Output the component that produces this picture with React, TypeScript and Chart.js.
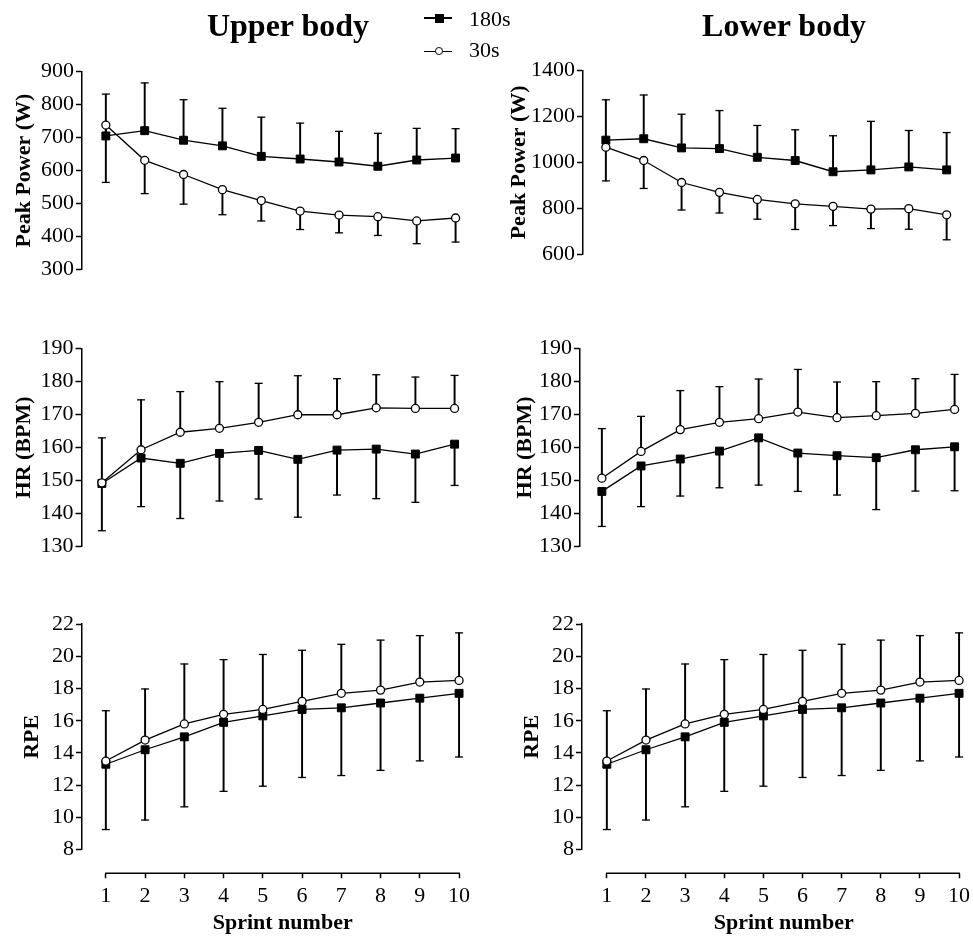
import React, { useEffect, useRef } from 'react';
import { Chart, registerables } from 'chart.js';

Chart.register(...registerables);

const FONT = "'Liberation Serif', 'Times New Roman', Times, serif";

// ---------- data ----------
const sprints = [1, 2, 3, 4, 5, 6, 7, 8, 9, 10];

// Upper body – Peak Power (W)
const upperPower180 = [705, 721, 692, 675, 643, 635, 626, 613, 632, 638];
const upperPower180SD = [127, 145, 123, 114, 119, 109, 93, 100, 96, 89];
const upperPower30 = [738, 631, 588, 542, 509, 477, 465, 460, 447, 456];
const upperPower30SD = [174, 101, 90, 76, 62, 56, 54, 57, 69, 73];

// Lower body – Peak Power (W)
const lowerPower180 = [1097, 1103, 1063, 1060, 1022, 1008, 959, 967, 980, 967];
const lowerPower180SD = [176, 191, 147, 166, 139, 134, 157, 212, 159, 163];
const lowerPower30 = [1066, 1008, 912, 869, 838, 819, 808, 796, 798, 771];
const lowerPower30SD = [147, 122, 120, 90, 86, 112, 84, 85, 90, 109];

// Upper body – HR (BPM)
const upperHR180 = [149.1, 156.8, 155.2, 158.2, 159.1, 156.4, 159.2, 159.5, 158.0, 161.0];
const upperHR180SD = [14.3, 14.7, 16.7, 14.4, 14.7, 17.5, 13.6, 15.0, 14.6, 12.5];
const upperHR30 = [149.3, 159.3, 164.6, 165.8, 167.6, 169.9, 169.9, 172.0, 171.8, 171.8];
const upperHR30SD = [13.6, 15.1, 12.3, 14.1, 11.8, 11.8, 10.9, 10.0, 9.5, 10.0];

// Lower body – HR (BPM)
const lowerHR180 = [146.7, 154.4, 156.5, 158.9, 162.9, 158.3, 157.5, 156.9, 159.3, 160.2];
const lowerHR180SD = [10.6, 12.3, 11.2, 11.1, 14.3, 11.6, 11.9, 15.7, 12.5, 13.3];
const lowerHR30 = [150.7, 158.8, 165.4, 167.6, 168.7, 170.7, 169.0, 169.6, 170.3, 171.5];
const lowerHR30SD = [15.0, 10.6, 11.8, 10.8, 12.0, 12.9, 10.8, 10.3, 10.5, 10.6];

// RPE (same in both panels)
const rpe180 = [13.3, 14.2, 15.0, 15.9, 16.3, 16.7, 16.8, 17.1, 17.4, 17.7];
const rpe180SD = [4.05, 4.36, 4.34, 4.28, 4.36, 4.22, 4.2, 4.18, 3.89, 3.95];
const rpe30 = [13.5, 14.8, 15.8, 16.4, 16.7, 17.2, 17.7, 17.9, 18.4, 18.5];
const rpe30SD = [3.12, 3.17, 3.72, 3.39, 3.41, 3.17, 3.04, 3.1, 2.88, 2.95];

// tick labels
const upperPowerTicks = [300, 400, 500, 600, 700, 800, 900];
const lowerPowerTicks = [600, 800, 1000, 1200, 1400];
const hrTicks = [130, 140, 150, 160, 170, 180, 190];
const rpeTicks = [8, 10, 12, 14, 16, 18, 20, 22];

const seriesLabels = ['180s', '30s'];
const columnTitles = ['Upper body', 'Lower body'];
const xTitle = 'Sprint number';

// ---------- layout ----------
type PanelDef = {
  id: string;
  yTitle: string;
  yTicks: number[];
  s180: number[];
  sd180: number[];
  dir180: number;
  s30: number[];
  sd30: number[];
  dir30: number;
  L: number; T: number; W: number; H: number;
  axisX: number; yTop: number; yBottom: number;
  x1: number; x10: number; titleX: number;
  showX: boolean;
};

const X_GAP = 23.6;

const panels: PanelDef[] = [
  { id: 'tl', yTitle: 'Peak Power (W)', yTicks: upperPowerTicks, s180: upperPower180, sd180: upperPower180SD, dir180: 1, s30: upperPower30, sd30: upperPower30SD, dir30: -1,
    L: 0, T: 30, W: 490, H: 290, axisX: 82, yTop: 71.7, yBottom: 294.7, x1: 106, x10: 458, titleX: 24, showX: false },
  { id: 'tr', yTitle: 'Peak Power (W)', yTicks: lowerPowerTicks, s180: lowerPower180, sd180: lowerPower180SD, dir180: 1, s30: lowerPower30, sd30: lowerPower30SD, dir30: -1,
    L: 495, T: 30, W: 497, H: 290, axisX: 583, yTop: 70.7, yBottom: 287, x1: 606, x10: 949, titleX: 519, showX: false },
  { id: 'ml', yTitle: 'HR (BPM)', yTicks: hrTicks, s180: upperHR180, sd180: upperHR180SD, dir180: -1, s30: upperHR30, sd30: upperHR30SD, dir30: 1,
    L: 0, T: 320, W: 490, H: 280, axisX: 81.5, yTop: 348.3, yBottom: 573.3, x1: 102, x10: 457, titleX: 24, showX: false },
  { id: 'mr', yTitle: 'HR (BPM)', yTicks: hrTicks, s180: lowerHR180, sd180: lowerHR180SD, dir180: -1, s30: lowerHR30, sd30: lowerHR30SD, dir30: 1,
    L: 495, T: 320, W: 497, H: 280, axisX: 580, yTop: 348.3, yBottom: 573.3, x1: 602, x10: 957, titleX: 525, showX: false },
  { id: 'bl', yTitle: 'RPE', yTicks: rpeTicks, s180: rpe180, sd180: rpe180SD, dir180: -1, s30: rpe30, sd30: rpe30SD, dir30: 1,
    L: 0, T: 600, W: 490, H: 337, axisX: 82, yTop: 624, yBottom: 849.7, x1: 106, x10: 461.5, titleX: 32, showX: true },
  { id: 'br', yTitle: 'RPE', yTicks: rpeTicks, s180: rpe180, sd180: rpe180SD, dir180: -1, s30: rpe30, sd30: rpe30SD, dir30: 1,
    L: 495, T: 600, W: 497, H: 337, axisX: 582, yTop: 624, yBottom: 849.7, x1: 607, x10: 961.5, titleX: 532, showX: true },
];

const detachedXAxis = {
  id: 'detachedXAxis',
  afterDraw(chart: any) {
    const xs = chart.scales.x;
    if (!xs || !xs.options.display) return;
    const ctx = chart.ctx;
    const y = chart.chartArea.bottom + X_GAP;
    ctx.save();
    ctx.strokeStyle = '#000';
    ctx.lineWidth = 1.5;
    ctx.beginPath();
    ctx.moveTo(xs.getPixelForValue(sprints[0]) - 0.75, y);
    ctx.lineTo(xs.getPixelForValue(sprints[sprints.length - 1]) + 0.75, y);
    ctx.stroke();
    ctx.restore();
  },
};

function PanelChart({ p }: { p: PanelDef }) {
  const ref = useRef<HTMLCanvasElement>(null);
  useEffect(() => {
    if (!ref.current) return;
    const spacing = (p.x10 - p.x1) / 9;
    const padRight = 4;
    const chartRightPage = p.L + p.W - padRight;
    const xMin = 1 - (p.x1 - p.axisX) / spacing;
    const xMax = 10 + (chartRightPage - p.x10) / spacing;
    const padTop = p.yTop - p.T;
    const padBottom = p.showX ? 0 : p.T + p.H - p.yBottom;
    const xHeight = p.T + p.H - p.yBottom;
    const yWidth = p.axisX - p.L;
    const titlePad = p.titleX - p.L - 13.2;

    const errStem = (vals: number[], sd: number[], dir: number) =>
      sprints.map((x, i) => ({ x, y: [vals[i], vals[i] + dir * sd[i]] }));
    const errCap = (vals: number[], sd: number[], dir: number) =>
      sprints.map((x, i) => ({ x, y: vals[i] + dir * sd[i] }));
    const pts = (vals: number[]) => sprints.map((x, i) => ({ x, y: vals[i] }));

    const stemStyle = {
      type: 'bar' as const,
      backgroundColor: '#000',
      borderWidth: 0,
      barThickness: 1.3,
      grouped: false,
      order: 5,
      clip: false as any,
    };
    const capStyle = {
      type: 'line' as const,
      showLine: false,
      pointStyle: 'line',
      pointRadius: 4,
      pointBorderWidth: 1.3,
      pointBorderColor: '#000',
      borderColor: '#000',
      order: 5,
      clip: false as any,
    };

    const chart = new Chart(ref.current, {
      type: 'line',
      data: {
        datasets: [
          { ...stemStyle, label: '180s SD', data: errStem(p.s180, p.sd180, p.dir180) } as any,
          { ...capStyle, label: '180s SD cap', data: errCap(p.s180, p.sd180, p.dir180) } as any,
          { ...stemStyle, label: '30s SD', data: errStem(p.s30, p.sd30, p.dir30) } as any,
          { ...capStyle, label: '30s SD cap', data: errCap(p.s30, p.sd30, p.dir30) } as any,
          {
            type: 'line',
            label: seriesLabels[0],
            data: pts(p.s180),
            borderColor: '#000',
            borderWidth: 1.3,
            pointStyle: 'rect',
            pointRadius: 5.6,
            pointBackgroundColor: '#000',
            pointBorderColor: '#000',
            pointBorderWidth: 1,
            tension: 0,
            order: 2,
            clip: false as any,
          },
          {
            type: 'line',
            label: seriesLabels[1],
            data: pts(p.s30),
            borderColor: '#000',
            borderWidth: 1.3,
            pointStyle: 'circle',
            pointRadius: 4,
            pointBackgroundColor: '#fff',
            pointBorderColor: '#000',
            pointBorderWidth: 1.3,
            tension: 0,
            order: 1,
            clip: false as any,
          },
        ],
      },
      options: {
        responsive: false,
        maintainAspectRatio: false,
        animation: false,
        events: [],
        layout: { padding: { left: 0, right: padRight, top: padTop, bottom: padBottom } },
        plugins: {
          legend: { display: false },
          tooltip: { enabled: false },
          title: { display: false },
        },
        scales: {
          x: {
            type: 'linear',
            display: p.showX,
            offset: false,
            min: xMin,
            max: xMax,
            afterBuildTicks: (sc: any) => {
              sc.ticks = sprints.map((v) => ({ value: v }));
            },
            afterFit: (sc: any) => {
              sc.height = xHeight;
            },
            border: { display: false },
            grid: {
              offset: false,
              drawOnChartArea: false,
              drawTicks: true,
              tickLength: X_GAP + 5,
              tickBorderDash: [0, X_GAP, 5, 300],
              tickColor: '#000',
              tickWidth: 1.5,
            },
            ticks: {
              color: '#000',
              font: { family: FONT, size: 22 },
              padding: 5,
              autoSkip: false,
              maxRotation: 0,
              callback: (v: any) => String(v),
            },
            title: {
              display: true,
              text: xTitle,
              color: '#000',
              font: { family: FONT, size: 22, weight: 'bold' },
              padding: { top: 0, bottom: 0 },
            },
          },
          y: {
            type: 'linear',
            offset: false,
            min: p.yTicks[0],
            max: p.yTicks[p.yTicks.length - 1],
            afterBuildTicks: (sc: any) => {
              sc.ticks = p.yTicks.map((v) => ({ value: v }));
            },
            afterFit: (sc: any) => {
              sc.width = yWidth;
            },
            border: { display: true, color: '#000', width: 1.5 },
            grid: {
              offset: false,
              drawOnChartArea: false,
              drawTicks: true,
              tickLength: 6,
              tickColor: '#000',
              tickWidth: 1.5,
            },
            ticks: {
              color: '#000',
              font: { family: FONT, size: 22 },
              padding: 2,
              callback: (v: any) => String(v),
            },
            title: {
              display: true,
              text: p.yTitle,
              color: '#000',
              font: { family: FONT, size: 22, weight: 'bold' },
              padding: { top: titlePad, bottom: 0 },
            },
          },
        },
      } as any,
      plugins: [detachedXAxis],
    });
    return () => chart.destroy();
  }, [p]);

  return (
    <canvas
      ref={ref}
      width={p.W}
      height={p.H}
      style={{ position: 'absolute', left: p.L, top: p.T, width: p.W, height: p.H }}
    />
  );
}

export default function App() {
  const titleStyle: React.CSSProperties = {
    position: 'absolute',
    top: 9,
    width: 300,
    textAlign: 'center',
    fontSize: 32,
    lineHeight: '32px',
    fontWeight: 'bold',
    fontFamily: FONT,
    color: '#000',
    whiteSpace: 'nowrap',
  };
  const legendText: React.CSSProperties = {
    position: 'absolute',
    left: 469,
    fontSize: 22,
    lineHeight: '22px',
    fontFamily: FONT,
    color: '#000',
    whiteSpace: 'nowrap',
  };
  const legendLine = (top: number): React.CSSProperties => ({
    position: 'absolute',
    left: 424,
    top: top - 0.75,
    width: 28,
    height: 1.5,
    background: '#000',
  });
  return (
    <div
      style={{
        position: 'absolute',
        left: 0,
        top: 0,
        width: 973,
        height: 937,
        overflow: 'hidden',
        background: '#fff',
      }}
    >
      {panels.map((p) => (
        <PanelChart key={p.id} p={p} />
      ))}
      <div style={{ ...titleStyle, left: 288 - 150 }}>{columnTitles[0]}</div>
      <div style={{ ...titleStyle, left: 784 - 150 }}>{columnTitles[1]}</div>
      {/* legend */}
      <div style={legendLine(18)} />
      <div
        style={{
          position: 'absolute',
          left: 439 - 4.5,
          top: 18 - 4.5,
          width: 9,
          height: 9,
          background: '#000',
        }}
      />
      <div style={{ ...legendText, top: 7.6 }}>{seriesLabels[0]}</div>
      <div style={legendLine(51.5)} />
      <div
        style={{
          position: 'absolute',
          left: 439 - 4.2,
          top: 51.5 - 4.2,
          width: 5.8,
          height: 5.8,
          borderRadius: '50%',
          border: '1.3px solid #000',
          background: '#fff',
        }}
      />
      <div style={{ ...legendText, top: 38.6 }}>{seriesLabels[1]}</div>
    </div>
  );
}
